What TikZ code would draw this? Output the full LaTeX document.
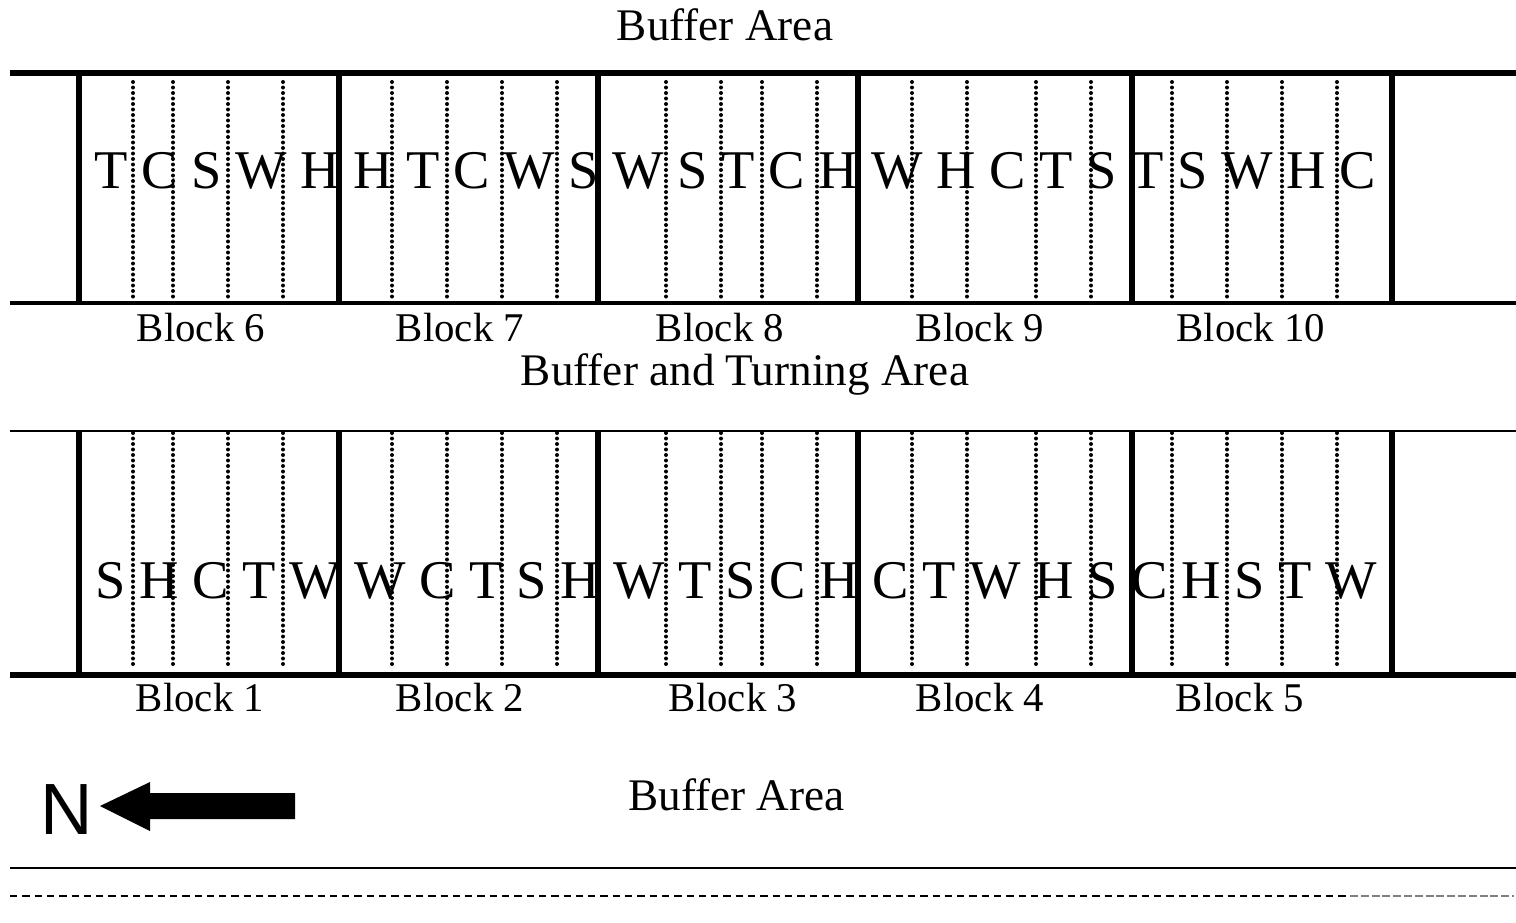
\documentclass[tikz,border=0pt]{standalone}
\usepackage{fontspec}
\setmainfont{Liberation Serif}
\newfontfamily\sansN{Liberation Sans}
\begin{document}
\begin{tikzpicture}[x=0.5pt,y=-0.5pt,
  heavy/.style={line width=3.4pt},
  wall/.style={line width=3pt},
  medium/.style={line width=2pt},
  thinrule/.style={line width=1.35pt},
  dotline/.style={line width=2pt,line cap=round,dash pattern=on 0pt off 2.75pt},
  plots/.style={anchor=base west,inner sep=0pt,font=\fontsize{27.27}{30}\selectfont},
  blocklbl/.style={anchor=base,inner sep=0pt,font=\fontsize{20.4}{24}\selectfont},
  arealbl/.style={anchor=base,inner sep=0pt,font=\fontsize{22.6}{26}\selectfont}]
\useasboundingbox (0,0) rectangle (1516,922);
% ---------- upper row (blocks 6-10)
\draw[heavy] (10,73) -- (1516,73);
\draw[medium] (10,303) -- (1516,303);
\foreach \x in {79,339,598,858,1132,1392} \draw[wall] (\x,73) -- (\x,303);
\foreach \x in {133,173,228,283,392,447,502,557,666,721,762,817,912,967,1036,1091,1172,1227,1282,1337}
  \draw[dotline] (\x,82) -- (\x,299);
\node[plots] (uprow) at (94,188) {T C S W H H T C W S W S T C H W H C T S T S W H C};
% ---------- lower row (blocks 1-5)
\draw[thinrule] (10,431) -- (1516,431);
\draw[heavy] (10,675) -- (1516,675);
\foreach \x in {79,339,598,858,1132,1392} \draw[wall] (\x,431) -- (\x,675);
\foreach \x in {133,173,228,283,392,447,502,557,666,721,762,817,912,967,1036,1091,1172,1227,1282,1337}
  \draw[dotline] (\x,433) -- (\x,668);
\node[plots] (lowrow) at (95,598) {S H C T W W C T S H W T S C H C T W H S C H S T W};
% ---------- labels
\node[arealbl] (buftop) at (725,40) {Buffer Area};
\node[blocklbl] (b6) at (201,341) {Block 6};
\node[blocklbl] (b7) at (460,341) {Block 7};
\node[blocklbl] (b8) at (720,341) {Block 8};
\node[blocklbl] (b9) at (980,341) {Block 9};
\node[blocklbl] (b10) at (1251,341) {Block 10};
\node[arealbl] (bufturn) at (745,385) {Buffer and Turning Area};
\node[blocklbl] (b1) at (200,711) {Block 1};
\node[blocklbl] (b2) at (460,711) {Block 2};
\node[blocklbl] (b3) at (733,711) {Block 3};
\node[blocklbl] (b4) at (980,711) {Block 4};
\node[blocklbl] (b5) at (1240,711) {Block 5};
\node[arealbl] (bufbot) at (736.5,810) {Buffer Area};
% ---------- north arrow
\node[anchor=base west,inner sep=0pt,font=\sansN\fontsize{36.3}{40}\selectfont] (north) at (40,834) {N};
\fill (100,806) -- (150,782) -- (150,793) -- (295,793) -- (295,819) -- (150,819) -- (150,831) -- cycle;
% ---------- bottom lines
\draw[line width=1.3pt] (10,868) -- (1516,868);
\draw[line width=0.8pt,dash pattern=on 3.65pt off 2.5pt] (10,896) -- (1348,896);
\draw[line width=0.8pt,gray,dash pattern=on 4pt off 1.4pt] (1350,896) -- (1514,896);
\end{tikzpicture}
\end{document}
